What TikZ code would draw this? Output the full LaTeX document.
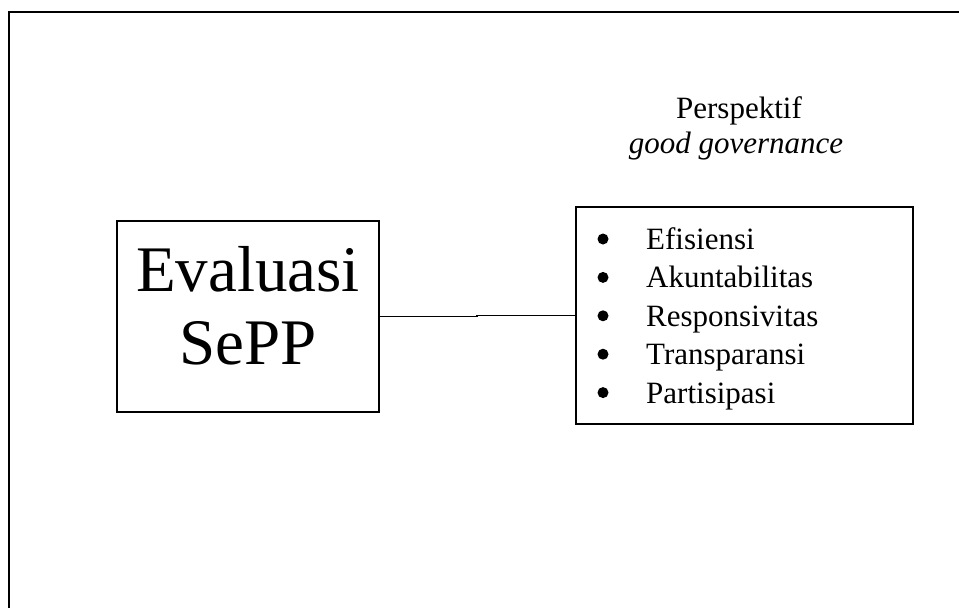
\documentclass[tikz,border=0pt]{standalone}
\usepackage{fontspec}
\setmainfont{Liberation Serif}
\begin{document}
\begin{tikzpicture}[x=1pt,y=-1pt,
  boxline/.style={draw=black,line width=1.6pt,inner sep=0pt,fill=none},
  bigtext/.style={font=\fontsize{65}{70}\selectfont,anchor=base,inner sep=0pt},
  listtext/.style={font=\fontsize{31}{38}\selectfont,anchor=base west,inner sep=0pt},
  bulletdot/.style={circle,fill=black,inner sep=0pt,minimum size=11pt},
  headtext/.style={font=\fontsize{31}{35}\selectfont,anchor=base,inner sep=0pt}]
\useasboundingbox (0,0) rectangle (959,608);
\fill[white] (0,0) rectangle (959,608);

% page frame, running off the right and bottom edges
\begin{scope}
  \clip (0,0) rectangle (959,608);
  \draw[line width=2pt] (9,640) -- (9,12) -- (990,12);
\end{scope}

% left box
\node[boxline,minimum width=262pt,minimum height=191pt] (eval) at (248,316.5) {};
\node[bigtext] (evalA) at (248,291) {Evaluasi};
\node[bigtext] (evalB) at (248,364) {SePP};

% right box
\node[boxline,minimum width=337pt,minimum height=217pt] (gg) at (744.5,315.5) {};

% heading above the right box
\node[headtext] (headA) at (739,118) {Perspektif};
\node[headtext] (headB) at (736,153) {\itshape good governance};

% list of criteria
\foreach \t [count=\i] in {Efisiensi,Akuntabilitas,Responsivitas,Transparansi,Partisipasi}{
  \node[bulletdot] (b\i) at (603,{239+(\i-1)*38.4}) {};
  \node[listtext] (item\i) at (646,{249.5+(\i-1)*38.4}) {\t};
}

% connector, with the small step halfway
\coordinate (mid) at (477,316);
\draw[line width=1.6pt] (eval.east) -- (eval.east -| mid) -- (gg.west -| mid) -- (gg.west);
\end{tikzpicture}
\end{document}
